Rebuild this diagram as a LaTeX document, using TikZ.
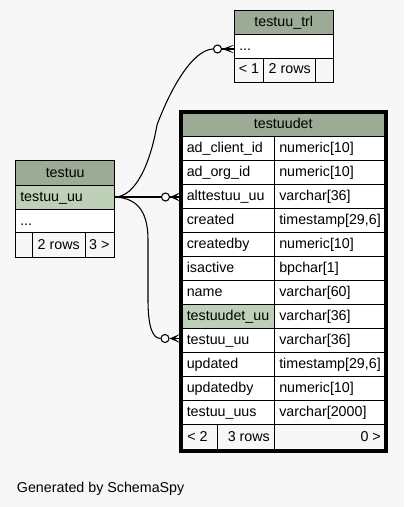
\documentclass[tikz,border=0pt]{standalone}
\usepackage{fontspec}
\setmainfont{Liberation Sans}
\usetikzlibrary{calc}
\definecolor{bgc}{HTML}{F7F7F7}
\definecolor{hdr}{HTML}{9BAB96}
\definecolor{pkc}{HTML}{BED1B8}
\newcommand\drow[4]{%
  \pgfmathsetmacro\rt{136.7+24*#1}%
  \pgfmathsetmacro\rb{\rt+24}%
  \pgfmathsetmacro\rbase{\rb-8}%
  \filldraw[cell,fill=#4] (182,\rt) rectangle (274.7,\rb);
  \filldraw[cell,fill=white] (274.7,\rt) rectangle (384.5,\rb);
  \node[txt] (dn#1) at (186.5,\rbase) {#2};
  \node[txt] (dt#1) at (279,\rbase) {#3};
}
\begin{document}
\begin{tikzpicture}[x=0.75pt,y=-0.75pt,
  font=\fontsize{10.7}{12}\selectfont,
  cell/.style={draw=black, line width=0.75pt},
  txt/.style={anchor=base west, inner sep=0pt},
  ctxt/.style={anchor=base, inner sep=0pt},
  rtxt/.style={anchor=base east, inner sep=0pt},
  edge/.style={line width=0.8pt},
  ring/.style={circle, draw, fill=white, line width=0.8pt, minimum size=6pt, inner sep=0pt}]
\fill[bgc] (0,0) rectangle (404,507);
\useasboundingbox (0,0) rectangle (404,507);

% ---- testuu_trl ----
\filldraw[cell,fill=hdr] (234.7,10.7) rectangle (333,34.3);
\node[ctxt] (trlh) at (283.8,26.5) {testuu\_trl};
\filldraw[cell,fill=white] (234.7,34.3) rectangle (333,58.7);
\node[txt] (trlr) at (239,50) {...};
\filldraw[cell,fill=bgc] (234.7,58.7) rectangle (263.3,82);
\filldraw[cell,fill=bgc] (263.3,58.7) rectangle (315.7,82);
\filldraw[cell,fill=bgc] (315.7,58.7) rectangle (333,82);
\node[ctxt] (trlf1) at (249,73.3) {< 1};
\node[ctxt] (trlf2) at (289.7,73.3) {2 rows};

% ---- testuu ----
\filldraw[cell,fill=hdr] (15.7,160.7) rectangle (114.7,185);
\node[ctxt] (tuh) at (65.2,177) {testuu};
\filldraw[cell,fill=pkc] (15.7,185) rectangle (114.7,209);
\node[txt] (tupk) at (20,201) {testuu\_uu};
\filldraw[cell,fill=white] (15.7,209) rectangle (114.7,232.7);
\node[txt] (tur) at (20,225) {...};
\filldraw[cell,fill=bgc] (15.7,232.7) rectangle (32.7,257.3);
\filldraw[cell,fill=bgc] (32.7,232.7) rectangle (85.3,257.3);
\filldraw[cell,fill=bgc] (85.3,232.7) rectangle (114.7,257.3);
\node[ctxt] (tuf2) at (58.7,249.3) {2 rows};
\node[ctxt] (tuf3) at (99.3,249.3) {3 >};

% ---- testuudet ----
\filldraw[cell,fill=hdr] (182,113) rectangle (384.5,136.7);
\node[ctxt] (deth) at (283.25,128.5) {testuudet};
\drow{0}{ad\_client\_id}{numeric[10]}{white}
\drow{1}{ad\_org\_id}{numeric[10]}{white}
\drow{2}{alttestuu\_uu}{varchar[36]}{white}
\drow{3}{created}{timestamp[29,6]}{white}
\drow{4}{createdby}{numeric[10]}{white}
\drow{5}{isactive}{bpchar[1]}{white}
\drow{6}{name}{varchar[60]}{white}
\drow{7}{testuudet\_uu}{varchar[36]}{pkc}
\drow{8}{testuu\_uu}{varchar[36]}{white}
\drow{9}{updated}{timestamp[29,6]}{white}
\drow{10}{updatedby}{numeric[10]}{white}
\drow{11}{testuu\_uus}{varchar[2000]}{white}
\filldraw[cell,fill=bgc] (182,424.7) rectangle (217.7,449.5);
\filldraw[cell,fill=bgc] (217.7,424.7) rectangle (274.7,449.5);
\filldraw[cell,fill=bgc] (274.7,424.7) rectangle (384.5,449.5);
\node[txt] (detf1) at (187,441) {< 2};
\node[ctxt] (detf2) at (248.8,441) {3 rows};
\node[rtxt] (detf3) at (381,441) {0 >};
\draw[line width=2.25pt] (180.5,111.5) rectangle (386,451);

% ---- connectors ----
\coordinate (src) at (114.7,197);
\coordinate (t1) at (234.7,49);
\coordinate (t2) at (180,197);
\coordinate (t3) at (180,338.5);
\node[ring] (r1) at (217.5,49) {};
\node[ring] (r2) at (165.5,197) {};
\node[ring] (r3) at (165,338.5) {};
\draw[edge] (src) .. controls (135,197) and (150,165) .. (157,125)
  .. controls (170,90) and (192,50) .. (r1.west);
\draw[edge] (src) -- (r2.west);
\draw[edge] (src) .. controls (140,198) and (148,215) .. (148,240) -- (148,300)
  .. controls (148,325) and (152,338.5) .. (r3.west);
\foreach \r/\t in {r1/t1, r2/t2, r3/t3}{
  \draw[edge] (\r.east) -- (\t);
  \fill (\r.east) -- ($(\t)+(0,-4.5)$) -- ($(\r.east)+(5,0)$) -- ($(\t)+(0,4.5)$) -- cycle;
}

\node[txt] (gen) at (16.7,492.3) {Generated by SchemaSpy};
\end{tikzpicture}
\end{document}
